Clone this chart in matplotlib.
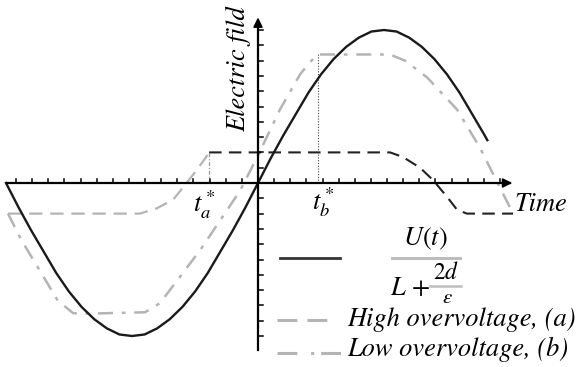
"""
Electric field in the gap: applied-voltage term and the two overvoltage regimes
"""
import numpy as np
import matplotlib
matplotlib.use('Agg')
import matplotlib.pyplot as plt

plt.rcParams['mathtext.fontset'] = 'stix'
plt.rcParams['font.family'] = 'STIXGeneral'

# time in half-periods of the applied voltage, field normalised to the sine amplitude
t_sine = [-1.00, -0.95, -0.90, -0.85, -0.80, -0.75, -0.70, -0.65, -0.60, -0.55,
          -0.50, -0.45, -0.40, -0.35, -0.30, -0.25, -0.20, -0.15, -0.10, -0.05,
          0.00, 0.05, 0.10, 0.15, 0.20, 0.25, 0.30, 0.35, 0.40, 0.45,
          0.50, 0.55, 0.60, 0.65, 0.70, 0.75, 0.80, 0.85, 0.90, 0.91]
e_sine = [0.00, -0.16, -0.31, -0.45, -0.59, -0.71, -0.81, -0.89, -0.95, -0.99,
          -1.00, -0.99, -0.95, -0.89, -0.81, -0.71, -0.59, -0.45, -0.31, -0.16,
          0.00, 0.16, 0.31, 0.45, 0.59, 0.71, 0.81, 0.89, 0.95, 0.99,
          1.00, 0.99, 0.95, 0.89, 0.81, 0.71, 0.59, 0.45, 0.31, 0.28]

# high overvoltage (a): before and after breakdown at t_a*
t_high_pre = [-0.992, -0.468, -0.401, -0.337, -0.298, -0.250, -0.210, -0.194]
e_high_pre = [-0.20, -0.20, -0.165, -0.11, -0.03, 0.07, 0.16, 0.20]
t_high_post = [-0.194, 0.524, 0.575, 0.643, 0.694, 0.750, 0.790, 0.829, 1.012]
e_high_post = [0.20, 0.20, 0.17, 0.10, 0.02, -0.09, -0.175, -0.20, -0.20]

# low overvoltage (b)
t_low = [-0.992, -0.940, -0.885, -0.845, -0.794, -0.734, -0.706, -0.448, -0.389,
         -0.230, -0.071, 0.000, 0.087, 0.167, 0.206, 0.238, 0.524, 0.583,
         0.671, 0.790, 0.881, 0.960, 1.000]
e_low = [-0.20, -0.37, -0.52, -0.63, -0.77, -0.85, -0.855, -0.845, -0.785,
         -0.44, -0.05, 0.18, 0.48, 0.71, 0.79, 0.84, 0.84, 0.80,
         0.69, 0.48, 0.23, -0.03, -0.16]

t_a = -0.194
t_b = 0.238
e_b = 0.84

fig = plt.figure(figsize=(5.77, 3.67), dpi=100)
ax = fig.add_axes([0, 0, 1, 1])
ax.set_xlim(-1.0238, 1.2659)
ax.set_ylim(-1.2026, 1.1961)
ax.axis('off')

light = '#b4b4b4'

# axes with arrows
ax.plot([-0.996, 1.0], [0, 0], color='black', lw=1.6, zorder=5)
ax.plot([0, 0], [-1.09, 1.06], color='black', lw=1.6, zorder=5)
ax.annotate('', xy=(1.02, 0), xytext=(0.97, 0),
            arrowprops=dict(arrowstyle='-|>', color='black', lw=1.2,
                            mutation_scale=14), zorder=6)
ax.annotate('', xy=(0, 1.10), xytext=(0, 1.02),
            arrowprops=dict(arrowstyle='-|>', color='black', lw=1.2,
                            mutation_scale=14), zorder=6)

# tick marks
x_step = 0.064
for k in range(-15, 16):
    if k == 0:
        continue
    ax.plot([k * x_step] * 2, [0, 0.025], color='black', lw=1.1, zorder=5)
for k in range(-10, 11):
    if k == 0:
        continue
    ax.plot([0, 0.018], [k / 10] * 2, color='black', lw=1.1, zorder=5)

# curves
ax.plot(t_sine, e_sine, color='#1a1a1a', lw=1.7, zorder=4)
ax.plot(t_high_pre, e_high_pre, color=light, lw=1.6, linestyle=(0, (6, 3.5)), zorder=3)
ax.plot(t_high_post, e_high_post, color='#222222', lw=1.5, linestyle=(0, (6, 3.5)), zorder=3)
ax.plot(t_low, e_low, color=light, lw=1.8, linestyle=(0, (6, 3.5, 1.5, 3.5)), zorder=2)

# breakdown instants
ax.plot([t_a, t_a], [0, 0.2], color='#999999', lw=0.9, linestyle=(0, (3, 1.5, 1, 1.5)))
ax.plot([t_b, t_b], [0, e_b], color='#444444', lw=0.8, linestyle=(0, (1, 1.5)))


def px(x, y):
    return x / 577, 1 - y / 367


fs = 19
tr = ax.transAxes
ax.text(*px(567, 205), 'Time', transform=tr, fontsize=fs,
        style='italic', ha='right', va='center')
ax.text(*px(238, 69), 'Electric fild', transform=tr, fontsize=fs,
        style='italic', rotation=90, ha='center', va='center')
ax.text(*px(204, 205), r'$t_a^*$', transform=tr, fontsize=fs,
        ha='center', va='center')
ax.text(*px(323, 202), r'$t_b^*$', transform=tr, fontsize=fs,
        ha='center', va='center')

# legend, drawn by hand
x0, y0 = px(280, 258)
x1, _ = px(340, 258)
ax.plot([x0, x1], [y0, y0], transform=tr, color='#333333', lw=2.0)
ax.text(*px(425, 245), r'$U(t)$', transform=tr, fontsize=fs, ha='center',
        va='baseline')
ax.plot([px(392, 0)[0], px(460, 0)[0]], [px(0, 258)[1]] * 2, transform=tr,
        color='#bdbdbd', lw=2.2)
ax.text(*px(390, 295), r'$L\,+$', transform=tr, fontsize=fs, ha='left',
        va='baseline')
ax.text(*px(446, 284), r'$2d$', transform=tr, fontsize=17, ha='center',
        va='bottom')
ax.plot([px(430, 0)[0], px(461, 0)[0]], [px(0, 286)[1]] * 2, transform=tr,
        color='#bdbdbd', lw=1.8)
ax.text(*px(447, 288), r'$\varepsilon$', transform=tr, fontsize=15, ha='center',
        va='top')

ax.plot([px(277, 0)[0], px(328, 0)[0]], [px(0, 320)[1]] * 2, transform=tr,
        color=light, lw=2.2, linestyle=(0, (6.5, 3.3)))
ax.text(*px(347, 326), 'High overvoltage, (a)', transform=tr, fontsize=fs,
        style='italic', ha='left', va='baseline')
ax.plot([px(277, 0)[0], px(342, 0)[0]], [px(0, 353)[1]] * 2, transform=tr,
        color=light, lw=2.2, linestyle=(0, (6.5, 4.5, 1, 2.3)))
ax.text(*px(347, 356), 'Low overvoltage, (b)', transform=tr, fontsize=fs,
        style='italic', ha='left', va='baseline')

fig.savefig('out.png', dpi=100)
